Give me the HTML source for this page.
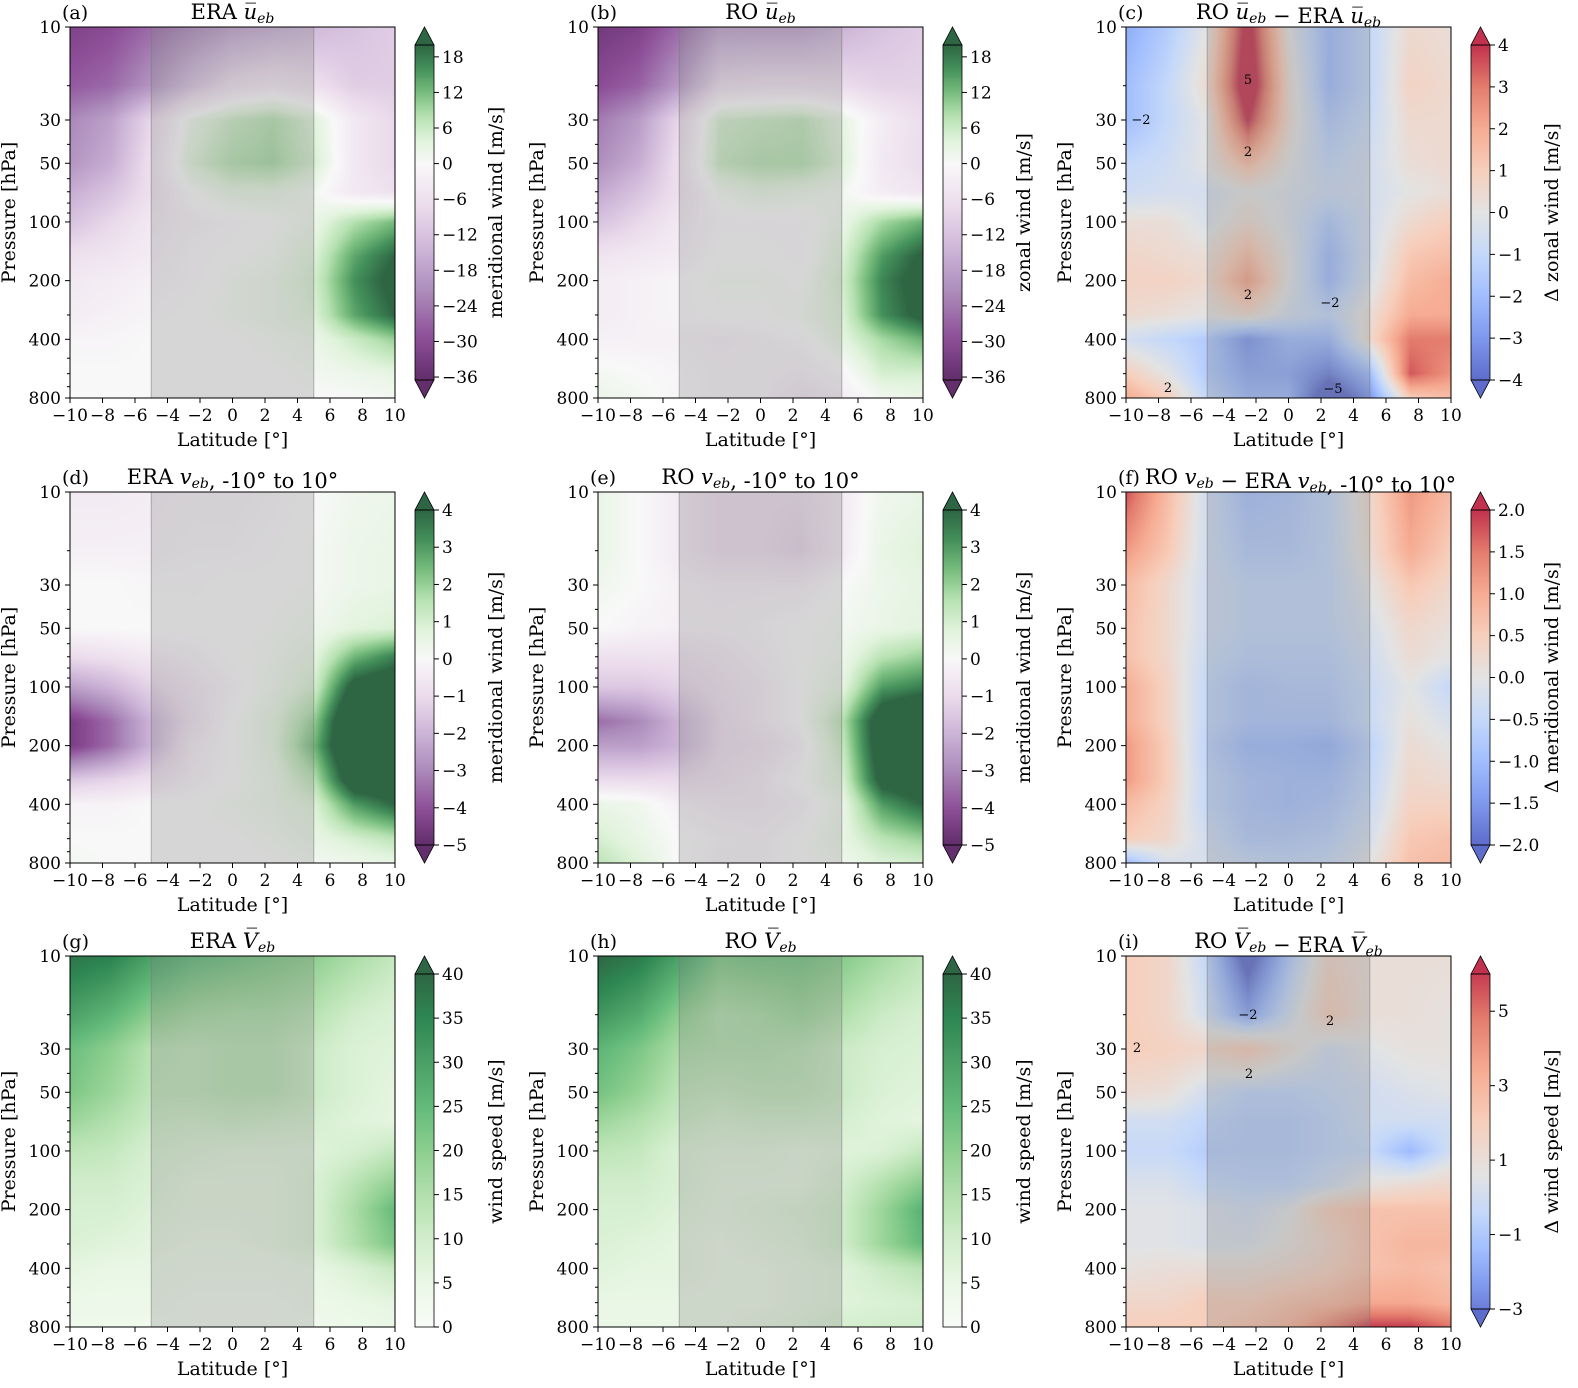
<!DOCTYPE html>
<html><head><meta charset="utf-8">
<style>
html,body{margin:0;padding:0;background:#fff;}
#fig{position:relative;width:1578px;height:1388px;overflow:hidden;}
canvas{position:absolute;}
svg{position:absolute;left:0;top:0;}
text{font-family:"DejaVu Serif","Liberation Serif",serif;fill:#000;}
</style></head><body>
<div id="fig"></div>
<script>
const lats=[-10,-7.5,-5,-2.5,0,2.5,5,7.5,10];
const levels=[10,20,30,50,70,100,150,200,300,400,600,800];
const latTicks=[-10,-8,-6,-4,-2,0,2,4,6,8,10];
const pTicks=[10,30,50,100,200,400,800];
const dataA=[
[-32,-30,-26,-22,-18,-16,-14,-12,-10],
[-28,-26,-20,-12,-6,-4,-6,-10,-10],
[-22,-18,-8,2,6,8,4,-4,-8],
[-20,-16,-6,4,8,9,5,-4,-8],
[-16,-12,-6,0,3,3,1,-4,-6],
[-12,-8,-4,-2,-1,0,2,8,12],
[-6,-5,-3,-1,0,1,4,14,20],
[-4,-3,-2,-1,1,2,5,16,22],
[-3,-2,-1,0,1,2,4,14,20],
[-1,-1,0,0,0,1,2,6,10],
[0,0,0,0,0,0,1,2,3],
[0,0,0,0,0,0,0,0,1]];
const dataB=[
[-34,-32,-26,-18,-18,-18,-15,-12,-10],
[-30,-27,-19,-7,-6,-6,-7,-9,-9],
[-24,-19,-8,5,6,7,3,-3,-7],
[-21,-16,-6,6,8,8,4,-4,-7],
[-17,-12,-6,1,3,2,1,-3,-5],
[-12,-8,-4,-1,-1,-1,2,9,13],
[-5,-4,-3,0,0,-1,4,15,21],
[-3,-2,-1,1,1,0,5,17,23],
[-3,-2,-1,0,0,1,4,16,22],
[-2,-2,-2,-3,-2,-1,3,9,13],
[1,0,-1,-2,-2,-3,-1,5,5],
[2,1,-1,-2,-2,-5,-3,1,2]];
const dataC=[
[-2.5,-1.5,0,4.5,0,-2,-1,0.5,0.3],
[-2,-1,0.5,5,0.5,-2,-1,0.8,0.5],
[-2,-1,0,4,0.5,-1.5,-0.8,0.5,0.5],
[-1,-0.7,0,1.5,0,-1,-0.5,0.3,0.5],
[-0.7,-0.5,-0.5,0,-0.3,-0.7,-0.5,0,0.3],
[0.3,0.3,-0.3,0.5,-0.3,-1.5,-0.5,0.5,1],
[0.7,0.5,0.3,1.5,0,-2,-0.5,1.2,1.5],
[0.8,0.8,0.5,2.2,0,-2,-0.3,1.5,2],
[0.5,0.3,0,0.5,-0.5,-1,0.3,2,2],
[-0.5,-1,-1.5,-3,-2,-2,0.5,3,3],
[1,0,-1.5,-2.5,-2.5,-3.5,-2,3.5,2.5],
[2,1,-1,-2,-2,-5,-3,1,1.5]];
const dataD=[
[-0.5,-0.5,-0.4,-0.3,-0.3,-0.2,0,0.3,0.4],
[-0.3,-0.3,-0.3,-0.2,-0.2,-0.1,0.1,0.4,0.5],
[0,0,-0.1,-0.1,0,0,0.1,0.4,0.5],
[0,0,0,0,0,0.1,0.3,0.7,0.9],
[-1,-0.8,-0.5,-0.3,0,0.2,0.6,2.5,3.5],
[-2.5,-2,-1.2,-0.6,-0.2,0.3,1,4.5,5],
[-4.5,-3.5,-2,-0.8,0,0.6,2,6,6],
[-4.5,-3.5,-2,-0.5,0,0.6,2.5,6,6],
[-1.5,-1.2,-0.8,-0.3,0,0.4,1.5,5,5],
[-0.2,-0.2,0,0,0.2,0.4,0.8,3,4],
[0,0,0,0,0,0.2,0.5,1,1.5],
[0.2,0,0,0,0,0,0.2,0.3,0.5]];
const dataE=[
[0.5,0,-0.5,-1,-1,-1,-0.5,0.3,0.5],
[0.5,0,-0.5,-1,-1,-1.2,-0.5,0.5,0.8],
[0.3,0,-0.3,-0.4,-0.4,-0.4,0,0.4,0.6],
[0,-0.2,-0.3,-0.3,-0.2,0,0.2,0.5,0.7],
[-0.8,-0.8,-0.8,-0.6,-0.3,0,0.3,1.5,2],
[-1.5,-1.5,-1.2,-0.8,-0.5,0,0.6,3,3.5],
[-3.5,-3,-2,-1,-0.5,0,1.5,5,6],
[-2.5,-2.5,-2,-1,-0.8,-0.3,1.2,5,6],
[-1,-1,-1,-0.8,-0.5,0,0.8,4.5,5],
[0.5,0.3,-0.3,-0.5,-0.5,-0.3,0.4,3,4],
[1,0.5,0,-0.2,-0.3,0,0.5,1.5,2],
[1.5,0.8,0,-0.3,-0.3,0,0.3,0.8,1]];
const dataF=[
[1.8,0.8,-0.3,-0.9,-0.8,-0.5,0.3,1.2,0.8],
[1.2,0.6,-0.3,-0.7,-0.7,-0.5,0.2,1.0,0.5],
[0.8,0.3,-0.3,-0.5,-0.5,-0.5,0,0.6,0.3],
[0.7,0.3,-0.3,-0.5,-0.5,-0.5,-0.2,0.3,0.1],
[0.7,0.3,-0.4,-0.6,-0.6,-0.6,-0.3,0.2,0],
[1.0,0.4,-0.5,-0.8,-0.7,-0.7,-0.4,0,-0.5],
[1.0,0.4,-0.5,-0.8,-0.8,-0.8,-0.4,0.1,-0.2],
[1.2,0.5,-0.6,-1.0,-1.0,-1.1,-0.6,0.2,0],
[1.2,0.5,-0.5,-0.8,-0.9,-0.9,-0.5,0.3,0.2],
[0.8,0.4,-0.5,-0.8,-0.9,-0.8,-0.4,0.4,0.4],
[0.5,0.3,-0.3,-0.7,-0.7,-0.6,-0.2,0.6,0.7],
[-1,-0.2,-0.2,-0.4,-0.5,-0.4,0,0.7,0.8]];
const dataG=[
[38,36,30,26,24,22,20,16,12],
[30,26,20,17,16,16,14,10,8],
[24,20,14,13,14,14,11,8,7],
[22,18,13,13,14,14,11,8,6],
[18,15,11,10,11,10,9,7,6],
[13,12,9,8,7,7,7,9,12],
[10,10,8,6,6,6,8,14,20],
[9,9,7,6,6,6,8,16,25],
[8,7,6,5,5,6,8,15,22],
[6,5,5,4,4,4,5,8,12],
[4,4,4,3,3,3,4,5,6],
[3,3,3,3,3,3,3,4,5]];
const dataH=[
[40,37,30,22,23,23,21,17,13],
[32,28,20,15,16,18,15,11,9],
[26,22,16,15,15,14,11,9,8],
[23,19,13,12,13,13,11,8,7],
[18,15,11,9,10,10,9,7,6],
[13,12,8,7,7,6,7,8,12],
[10,10,8,6,6,6,9,15,21],
[9,9,7,6,7,8,10,18,27],
[8,7,6,5,6,7,10,18,25],
[7,6,6,5,5,6,7,11,14],
[5,5,5,5,5,6,7,8,9],
[5,5,5,5,6,7,9,10,10]];
const dataI=[
[2,1.5,-0.5,-4,-1,1.5,1,1,1],
[2,1.5,0,-2,0,2,1,1,0.8],
[2,1.8,1.5,2.2,1,0,0.5,0.8,0.8],
[1.2,1,0,-0.5,-0.5,-0.3,0,0.3,0.5],
[0,0,-0.5,-0.8,-0.8,-0.5,0,0,0],
[-0.3,-0.3,-0.8,-0.8,-0.8,-0.5,-0.3,-1.5,0],
[0.3,0.3,-0.3,-0.5,-0.5,0,0.8,1.2,1.5],
[0.5,0.5,0.3,0,0.5,2,2.5,2.5,2.5],
[0.5,0.5,0.3,0.3,0.8,1.5,2.5,3,3],
[0.8,1,1,1,1.3,1.8,2.5,2.8,2.5],
[1.5,1.5,2,2,2.5,2.8,3.5,3.5,3],
[2,2,2,2.5,3,4.5,6,6,5]];

const PRGN=[[64,0,75],[118,42,131],[153,112,171],[194,165,207],[231,212,232],[247,247,247],[217,240,211],[166,219,160],[90,174,97],[27,120,55],[0,68,27]];
const CW=[[59,76,192],[98,130,234],[141,176,254],[184,208,249],[221,221,221],[245,196,173],[244,154,123],[222,96,77],[180,4,38]];
const GR=[[247,252,245],[229,245,224],[199,233,192],[161,217,155],[116,196,118],[65,171,93],[35,139,69],[0,109,44],[0,68,27]];
const ALPHA=0.82;
function stops(s,t){t=Math.max(0,Math.min(1,t));const f=t*(s.length-1);const i=Math.min(s.length-2,Math.floor(f));const u=f-i;return s[i].map((c,k)=>Math.round((c+(s[i+1][k]-c)*u)*ALPHA+255*(1-ALPHA)));}
function twoSlope(s,vmin,vc,vmax){return v=>stops(s,v<vc?0.5*(v-vmin)/(vc-vmin):0.5+0.5*(v-vc)/(vmax-vc));}

const panels=[
{id:'a',col:0,row:0,data:dataA,cmap:twoSlope(PRGN,-36.5,0,20),vmin:-36.5,vmax:20,ticks:[18,12,6,0,-6,-12,-18,-24,-30,-36],lab:'meridional wind [m/s]',ext:'both',t:'ERA',kind:'u'},
{id:'b',col:1,row:0,data:dataB,cmap:twoSlope(PRGN,-36.5,0,20),vmin:-36.5,vmax:20,ticks:[18,12,6,0,-6,-12,-18,-24,-30,-36],lab:'zonal wind [m/s]',ext:'both',t:'RO',kind:'u'},
{id:'c',col:2,row:0,data:dataC,cmap:twoSlope(CW,-4,0,4),vmin:-4,vmax:4,ticks:[4,3,2,1,0,-1,-2,-3,-4],lab:'Δ zonal wind [m/s]',ext:'both',t:'diff',kind:'u'},
{id:'d',col:0,row:1,data:dataD,cmap:twoSlope(PRGN,-5,0,4),vmin:-5,vmax:4,ticks:[4,3,2,1,0,-1,-2,-3,-4,-5],lab:'meridional wind [m/s]',ext:'both',t:'ERA',kind:'v'},
{id:'e',col:1,row:1,data:dataE,cmap:twoSlope(PRGN,-5,0,4),vmin:-5,vmax:4,ticks:[4,3,2,1,0,-1,-2,-3,-4,-5],lab:'meridional wind [m/s]',ext:'both',t:'RO',kind:'v'},
{id:'f',col:2,row:1,data:dataF,cmap:twoSlope(CW,-2,0,2),vmin:-2,vmax:2,ticks:[2,1.5,1,0.5,0,-0.5,-1,-1.5,-2],lab:'Δ meridional wind [m/s]',ext:'both',t:'diff',kind:'v',fmt:1},
{id:'g',col:0,row:2,data:dataG,cmap:v=>stops(GR,v/40),vmin:0,vmax:40,ticks:[40,35,30,25,20,15,10,5,0],lab:'wind speed [m/s]',ext:'max',t:'ERA',kind:'V'},
{id:'h',col:1,row:2,data:dataH,cmap:v=>stops(GR,v/40),vmin:0,vmax:40,ticks:[40,35,30,25,20,15,10,5,0],lab:'wind speed [m/s]',ext:'max',t:'RO',kind:'V'},
{id:'i',col:2,row:2,data:dataI,cmap:twoSlope(CW,-3.4,0.6,6.2),vmin:-3,vmax:6,ticks:[5,3,1,-1,-3],lab:'Δ wind speed [m/s]',ext:'both',t:'diff',kind:'V'}
];
const X0=[70,598,1126],Y0=[27,492,956],W=325,H=371;
const fig=document.getElementById('fig');
const NS='http://www.w3.org/2000/svg';
const svg=document.createElementNS(NS,'svg');
svg.setAttribute('width',1578);svg.setAttribute('height',1388);


function el(tag,attrs,parent,txt){const e=document.createElementNS(NS,tag);for(const k in attrs)e.setAttribute(k,attrs[k]);if(txt!==undefined)e.textContent=txt;(parent||svg).appendChild(e);return e;}
const L80=Math.log10(80);
function yOfP(p,y0){return y0+Math.log10(p/10)/L80*H;}
function xOfLat(l,x0){return x0+(l+10)/20*W;}
function sample(data,lat,lp){
  let i=0;while(i<lats.length-2&&lat>lats[i+1])i++;
  const u=Math.max(0,Math.min(1,(lat-lats[i])/(lats[i+1]-lats[i])));
  const ll=levels.map(Math.log10);let j=0;while(j<ll.length-2&&lp>ll[j+1])j++;
  const w=Math.max(0,Math.min(1,(lp-ll[j])/(ll[j+1]-ll[j])));
  const a=data[j][i]*(1-u)+data[j][i+1]*u,b=data[j+1][i]*(1-u)+data[j+1][i+1]*u;
  return a*(1-w)+b*w;
}
function fmtTick(v,f){let s=f?v.toFixed(1):String(v);return s.replace('-','\u2212');}
panels.forEach(P=>{
  const x0=X0[P.col],y0=Y0[P.row];
  const cv=document.createElement('canvas');cv.width=W;cv.height=H;
  cv.style.left=x0+'px';cv.style.top=y0+'px';
  
  
  fig.appendChild(cv);
  const ctx=cv.getContext('2d');const img=ctx.createImageData(W,H);
  for(let py=0;py<H;py++){const lp=1+(py+0.5)/H*L80;
    for(let px=0;px<W;px++){const lat=-10+20*(px+0.5)/W;
      let c=P.cmap(sample(P.data,lat,lp));
      if(lat>-5&&lat<5)c=c.map(v=>Math.round(v*0.72+128*0.28));
      const k=(py*W+px)*4;img.data[k]=c[0];img.data[k+1]=c[1];img.data[k+2]=c[2];img.data[k+3]=255;}}
  ctx.putImageData(img,0,0);
  const g=el('g',{});
  el('rect',{x:xOfLat(-5,x0),y:y0,width:W/2,height:H,fill:'none',stroke:'rgba(120,120,120,0.5)','stroke-width':1},g);
  el('rect',{x:x0,y:y0,width:W,height:H,fill:'none',stroke:'#000','stroke-width':1},g);
  latTicks.forEach(l=>{const x=xOfLat(l,x0);el('line',{x1:x,x2:x,y1:y0+H,y2:y0+H+5,stroke:'#000'},g);
    el('text',{x:x,y:y0+H+23,'font-size':17,'text-anchor':'middle'},g,fmtTick(l));});
  pTicks.forEach(p=>{const y=yOfP(p,y0);el('line',{x1:x0-5,x2:x0,y1:y,y2:y,stroke:'#000'},g);
    el('text',{x:x0-9,y:y+6,'font-size':17,'text-anchor':'end'},g,String(p));});
  [20,40,60,70,80,90,300,500,600,700].forEach(p=>{const y=yOfP(p,y0);el('line',{x1:x0-3,x2:x0,y1:y,y2:y,stroke:'#000'},g);});
  el('text',{x:x0+W/2,y:y0+H+48,'font-size':19,'text-anchor':'middle'},g,'Latitude [°]');
  el('text',{transform:`translate(${x0-55},${y0+H/2}) rotate(-90)`,'font-size':19,'text-anchor':'middle'},g,'Pressure [hPa]');
  el('text',{x:x0-8,y:y0-8,'font-size':19},g,'('+P.id+')');
  const sym=P.kind==='u'?'u':(P.kind==='v'?'v':'V');const ov=P.kind!=='v';
  const t=el('text',{x:x0+W/2,y:y0-8,'font-size':21,'text-anchor':'middle'},g);
  function addVar(parent){const a=document.createElementNS(NS,'tspan');a.setAttribute('font-style','italic');a.textContent=ov?sym+'\u0305':sym;parent.appendChild(a);
    const b=document.createElementNS(NS,'tspan');b.setAttribute('font-style','italic');b.setAttribute('font-size','14');b.setAttribute('dy','4');b.textContent='eb';parent.appendChild(b);
    const c=document.createElementNS(NS,'tspan');c.setAttribute('dy','-4');c.textContent='';parent.appendChild(c);return c;}
  function addT(s){const a=document.createElementNS(NS,'tspan');a.textContent=s;t.appendChild(a);}
  if(P.t==='diff'){addT('RO ');addVar(t);addT(' \u2212 ERA ');addVar(t);}else{addT(P.t+' ');addVar(t);}
  if(P.kind==='v')addT(', -10° to 10°');
  if(P.id==='f'){t.setAttribute('x',x0+W/2+12);}
  const cx=X0[P.col]+W+20,cw=19;
  let cb0=y0+18,cb1=y0+H-18;if(P.ext==='max')cb1=y0+H;
  const cb=document.createElement('canvas');cb.width=cw;cb.height=cb1-cb0;cb.style.left=cx+'px';cb.style.top=cb0+'px';
  
  
  fig.appendChild(cb);const c2=cb.getContext('2d');
  for(let yy=0;yy<cb1-cb0;yy++){const v=P.vmax-(yy+0.5)/(cb1-cb0)*(P.vmax-P.vmin);const c=P.cmap(v);c2.fillStyle=`rgb(${c})`;c2.fillRect(0,yy,cw,1);}
  const ctop=P.cmap(P.vmax+100),cbot=P.cmap(P.vmin-100);
  el('polygon',{points:`${cx},${cb0} ${cx+cw/2},${y0} ${cx+cw},${cb0}`,fill:`rgb(${ctop})`,stroke:'#000','stroke-width':0.8},g);
  if(P.ext==='both')el('polygon',{points:`${cx},${cb1} ${cx+cw/2},${y0+H} ${cx+cw},${cb1}`,fill:`rgb(${cbot})`,stroke:'#000','stroke-width':0.8},g);
  el('rect',{x:cx,y:cb0,width:cw,height:cb1-cb0,fill:'none',stroke:'#000','stroke-width':0.8},g);
  P.ticks.forEach(v=>{const y=cb0+(P.vmax-v)/(P.vmax-P.vmin)*(cb1-cb0);
    el('line',{x1:cx+cw,x2:cx+cw+5,y1:y,y2:y,stroke:'#000'},g);
    el('text',{x:cx+cw+8,y:y+6,'font-size':17},g,fmtTick(v,P.fmt));});
  el('text',{transform:`translate(${cx+87},${y0+H/2}) rotate(-90)`,'font-size':19,'text-anchor':'middle'},g,P.lab);
});
[[1248,84,'5'],[1248,156,'2'],[1141,124,'\u22122'],[1248,299,'2'],[1330,307,'\u22122'],[1333,393,'\u22125'],[1168,392,'2'],
 [1248,1019,'\u22122'],[1330,1025,'2'],[1137,1052,'2'],[1249,1078,'2']].forEach(d=>{
  const t=el('text',{x:d[0],y:d[1],'font-size':13,'text-anchor':'middle'},svg,d[2]);
  
  
});
fig.appendChild(svg);
</script>
</body></html>
